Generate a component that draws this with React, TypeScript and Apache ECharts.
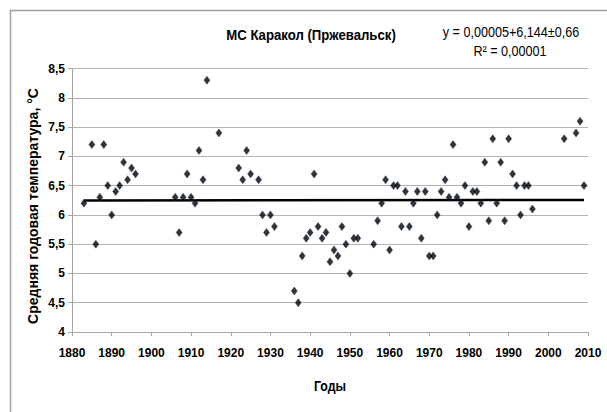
import React, { useEffect, useRef } from "react";
import * as echarts from "echarts";

const years = [
  1883, 1885, 1886, 1887, 1888, 1889, 1890, 1891, 1892, 1893, 1894, 1895, 1896,
  1906, 1907, 1908, 1909, 1910, 1911, 1912, 1913, 1914, 1917,
  1922, 1923, 1924, 1925, 1927, 1928, 1929, 1930, 1931,
  1936, 1937, 1938, 1939, 1940, 1941, 1942, 1943, 1944, 1945, 1946, 1947, 1948, 1949, 1950, 1951, 1952,
  1956, 1957, 1958, 1959, 1960, 1961, 1962, 1963, 1964, 1965, 1966, 1967, 1968, 1969, 1970, 1971, 1972,
  1973, 1974, 1975, 1976, 1977, 1978, 1979, 1980, 1981, 1982, 1983, 1984, 1985, 1986, 1987, 1988, 1989,
  1990, 1991, 1992, 1993, 1994, 1995, 1996,
  2004, 2007, 2008, 2009,
];

const temps = [
  6.2, 7.2, 5.5, 6.3, 7.2, 6.5, 6.0, 6.4, 6.5, 6.9, 6.6, 6.8, 6.7,
  6.3, 5.7, 6.3, 6.7, 6.3, 6.2, 7.1, 6.6, 8.3, 7.4,
  6.8, 6.6, 7.1, 6.7, 6.6, 6.0, 5.7, 6.0, 5.8,
  4.7, 4.5, 5.3, 5.6, 5.7, 6.7, 5.8, 5.6, 5.7, 5.2, 5.4, 5.3, 5.8, 5.5, 5.0, 5.6, 5.6,
  5.5, 5.9, 6.2, 6.6, 5.4, 6.5, 6.5, 5.8, 6.4, 5.8, 6.2, 6.4, 5.6, 6.4, 5.3, 5.3, 6.0,
  6.4, 6.6, 6.3, 7.2, 6.3, 6.2, 6.5, 5.8, 6.4, 6.4, 6.2, 6.9, 5.9, 7.3, 6.2, 6.9, 5.9,
  7.3, 6.7, 6.5, 6.0, 6.5, 6.5, 6.1,
  7.3, 7.4, 7.6, 6.5,
];

const titleText = "МС Каракол (Пржевальск)";
const equationText = "y = 0,00005+6,144±0,66";
const r2Text = "R² = 0,00001";
const yAxisTitle = "Средняя годовая температура, °С";
const xAxisTitle = "Годы";

const SANS = "'Liberation Sans', Arial, sans-serif";

function trendPoints(): number[][] {
  const n = years.length;
  let sx = 0, sy = 0, sxx = 0, sxy = 0;
  for (let i = 0; i < n; i++) {
    sx += years[i];
    sy += temps[i];
    sxx += years[i] * years[i];
    sxy += years[i] * temps[i];
  }
  const b = (n * sxy - sx * sy) / (n * sxx - sx * sx);
  const a = (sy - b * sx) / n;
  const x0 = years[0];
  const x1 = years[n - 1];
  return [
    [x0, a + b * x0],
    [x1, a + b * x1],
  ];
}

export default function App() {
  const ref = useRef<HTMLDivElement>(null);

  useEffect(() => {
    document.body.style.margin = "0";
    if (!ref.current) return;
    const chart = echarts.init(ref.current, undefined, { renderer: "svg" });
    const fmt = (v: number) => String(v).replace(".", ",");
    chart.setOption({
      animation: false,
      backgroundColor: "#ffffff",
      grid: { left: 72, right: 19, top: 68.5, bottom: 80, containLabel: false },
      xAxis: {
        type: "value",
        min: 1880,
        max: 2010,
        interval: 10,
        axisLine: { show: true, lineStyle: { color: "#a6a6a6", width: 1 } },
        axisTick: { show: true, length: 4, lineStyle: { color: "#a6a6a6" } },
        axisLabel: {
          color: "#000",
          fontFamily: SANS,
          fontWeight: "bold",
          fontSize: 12,
          margin: 15,
          formatter: (v: number) => String(v),
        },
        splitLine: { show: false },
      },
      yAxis: {
        type: "value",
        min: 4,
        max: 8.5,
        interval: 0.5,
        axisLine: { show: true, lineStyle: { color: "#a6a6a6", width: 1 } },
        axisTick: { show: true, length: 4, lineStyle: { color: "#a6a6a6" } },
        axisLabel: {
          color: "#000",
          fontFamily: SANS,
          fontWeight: "bold",
          fontSize: 12,
          margin: 7,
          formatter: fmt,
        },
        splitLine: { show: true, lineStyle: { color: "#b4b4b4", width: 1 } },
      },
      series: [
        {
          type: "line",
          data: trendPoints(),
          symbol: "none",
          lineStyle: { color: "#000", width: 2.5 },
          z: 2,
        },
        {
          type: "scatter",
          data: years.map((y, i) => [y, temps[i]]),
          symbol: "diamond",
          symbolSize: [6, 8],
          itemStyle: { color: "#000", borderColor: "#1f3a5f", borderWidth: 0.6 },
          z: 3,
        },
      ],
      graphic: [
        {
          type: "rect",
          shape: { x: 10.5, y: 10.5, width: 700, height: 600 },
          style: { fill: "none", stroke: "#a0a0a0", lineWidth: 1.5 },
          silent: true,
        },
        {
          type: "text",
          x: 311,
          y: 35,
          scaleX: 0.88,
          style: {
            text: titleText,
            font: `bold 15px ${SANS}`,
            fill: "#000",
            textAlign: "center",
            textVerticalAlign: "middle",
          },
        },
        {
          type: "text",
          x: 511,
          y: 32,
          scaleX: 0.9,
          style: {
            text: equationText,
            font: `14px ${SANS}`,
            fill: "#000",
            textAlign: "center",
            textVerticalAlign: "middle",
          },
        },
        {
          type: "text",
          x: 510,
          y: 51,
          scaleX: 0.9,
          style: {
            text: r2Text,
            font: `14px ${SANS}`,
            fill: "#000",
            textAlign: "center",
            textVerticalAlign: "middle",
          },
        },
        {
          type: "text",
          x: 33,
          y: 206,
          rotation: Math.PI / 2,
          style: {
            text: yAxisTitle,
            font: `bold 14px ${SANS}`,
            fill: "#000",
            textAlign: "center",
            textVerticalAlign: "middle",
          },
        },
        {
          type: "text",
          x: 330,
          y: 386,
          scaleX: 0.88,
          style: {
            text: xAxisTitle,
            font: `bold 14px ${SANS}`,
            fill: "#000",
            textAlign: "center",
            textVerticalAlign: "middle",
          },
        },
      ],
    });
    return () => chart.dispose();
  }, []);

  return <div ref={ref} style={{ width: 607, height: 412 }} />;
}
